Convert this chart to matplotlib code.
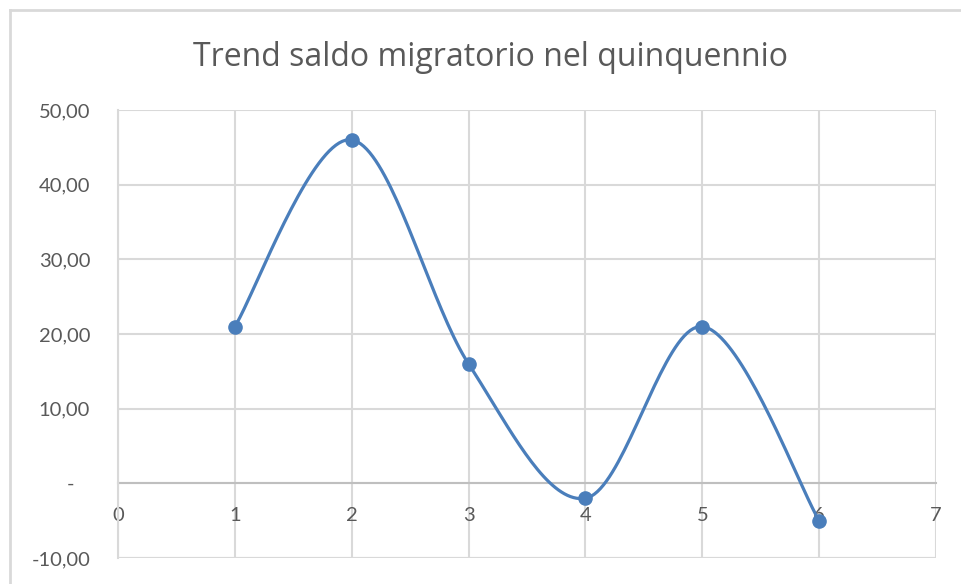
import numpy as np
import matplotlib.pyplot as plt
from matplotlib.lines import Line2D

# data
x_vals = [1, 2, 3, 4, 5, 6]
saldo = [21, 46, 16, -2, 21, -5]
y_ticks = [-10, 0, 10, 20, 30, 40, 50]
y_labels = ['-10,00', '-   ', '10,00', '20,00', '30,00', '40,00', '50,00']
x_ticks = [0, 1, 2, 3, 4, 5, 6, 7]
title = 'Trend saldo migratorio nel quinquennio'

blue = '#4A7EBB'
grid = '#D9D9D9'
txt = '#595959'


def smooth(xs, ys, n=40):
    # bezier smoothing like the office "smoothed line" option
    p = np.column_stack([xs, ys]).astype(float)
    p = np.vstack([p[0], p, p[-1]])
    out = []
    for i in range(1, len(p) - 2):
        p0, p1, p2, p3 = p[i - 1], p[i], p[i + 1], p[i + 2]
        c1 = p1 + (p2 - p0) / 6
        c2 = p2 - (p3 - p1) / 6
        t = np.linspace(0, 1, n)[:, None]
        seg = ((1 - t) ** 3) * p1 + 3 * ((1 - t) ** 2) * t * c1 \
            + 3 * (1 - t) * t ** 2 * c2 + t ** 3 * p2
        out.append(seg if i == 1 else seg[1:])
    out = np.vstack(out)
    return out[:, 0], out[:, 1]


plt.rcParams['font.family'] = ['Lato', 'DejaVu Sans']

fig = plt.figure(figsize=(9.62, 5.84), dpi=100)
ax = fig.add_axes([118 / 962, 26 / 584, 818 / 962, 448 / 584])

sx, sy = smooth(x_vals, saldo)
ax.plot(sx, sy, color=blue, lw=2.3, solid_capstyle='round', zorder=3)
ax.plot(x_vals, saldo, 'o', color=blue, ms=9.5, zorder=4)

ax.set_xlim(0, 7)
ax.set_ylim(-10, 50)
ax.set_yticks(y_ticks)
ax.set_yticklabels(y_labels)
ax.set_xticks(x_ticks)
ax.set_xticklabels([str(v) for v in x_ticks])

ax.grid(True, color=grid, lw=1.5)
ax.set_axisbelow(True)
for s in ['top', 'right']:
    ax.spines[s].set_visible(False)
ax.spines['left'].set_color(grid)
ax.spines['left'].set_linewidth(1.5)
ax.spines['bottom'].set_position(('data', 0))
ax.spines['bottom'].set_color('#BFBFBF')
ax.spines['bottom'].set_linewidth(1.5)
ax.spines['bottom'].set_zorder(2)
# bottom edge of plot area
ax.axhline(-10, color=grid, lw=1.5, zorder=1)

ax.tick_params(axis='both', length=0, colors=txt, labelsize=14.5)
ax.tick_params(axis='y', pad=20)
ax.tick_params(axis='x', pad=17)

fig.text(491 / 962, 1 - 57 / 584, title, ha='center', va='center',
         fontsize=23, color=txt, family=['Open Sans', 'DejaVu Sans'])

# chart area frame (only top and left visible in the crop)
fig.add_artist(Line2D([10 / 962, 10 / 962], [0, 1 - 10 / 584],
                      transform=fig.transFigure, color=grid, lw=2))
fig.add_artist(Line2D([10 / 962, 1], [1 - 10 / 584, 1 - 10 / 584],
                      transform=fig.transFigure, color=grid, lw=2))

fig.savefig('out.png', dpi=100)
